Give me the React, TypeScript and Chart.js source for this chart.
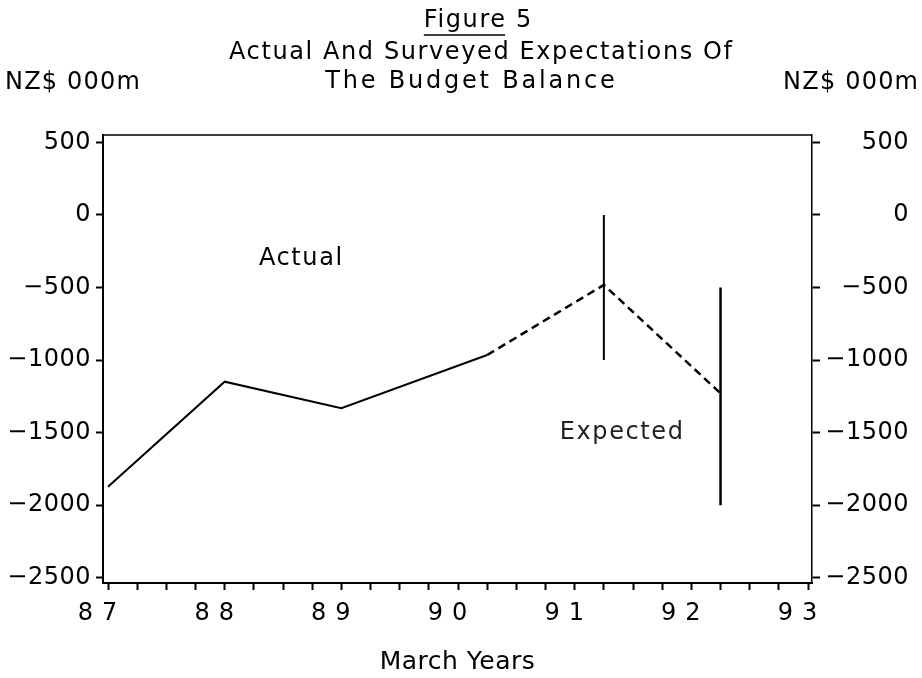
import React, { useEffect, useRef } from 'react';
import { Chart, registerables } from 'chart.js';

Chart.register(...registerables);

const FONT = '"DejaVu Sans", "Liberation Sans", sans-serif';

// ---- data ----
const actualYears = [87, 88, 89, 90.25];
const actualBalance = [-1872, -1149, -1332, -965];
const expectedYears = [90.25, 91.25, 92.25];
const expectedBalance = [-965, -482, -1229];
const rangeYears = [91.25, 92.25];
const rangeHigh = [0, -500];
const rangeLow = [-1000, -2000];

// ---- axes ----
const xMajorYears = [87, 88, 89, 90, 91, 92, 93];
const xTickLabels = ['87', '88', '89', '90', '91', '92', '93'];
const yTickValues = [-2500, -2000, -1500, -1000, -500, 0, 500];
const yTickLabels = ['\u22122500', '\u22122000', '\u22121500', '\u22121000', '\u2212500', '0', '500'];
const X_MIN = 86.957;
const X_MAX = 93.034;
const Y_MIN = -2536;
const Y_MAX = 551;

// ---- text ----
const titleLines = ['Figure 5', 'Actual And Surveyed Expectations Of', 'The Budget Balance'];
const unitLabel = 'NZ$ 000m';
const xTitle = 'March Years';
const noteText = ['Actual', 'Expected'];
const noteYear = [88.65, 91.4];
const noteValue = [-300, -1500];

function drawText(ctx: any, text: string, x: number, y: number, align: string, size: number, spacing: number, color = '#000') {
  ctx.save();
  ctx.font = `${size}px ${FONT}`;
  ctx.letterSpacing = `${spacing}px`;
  ctx.fillStyle = color;
  ctx.textAlign = align;
  ctx.textBaseline = 'middle';
  let dx = 0;
  if (align === 'center') dx = spacing / 2;
  if (align === 'right') dx = spacing;
  ctx.fillText(text, x + dx, y);
  ctx.restore();
}

const decorPlugin = {
  id: 'decor',
  beforeDraw(chart: any) {
    chart.ctx.letterSpacing = '0.5px';
  },
  afterDatasetsDraw(chart: any) {
    chart.ctx.letterSpacing = '9px';
  },
  afterDraw(chart: any) {
    const ctx = chart.ctx;
    ctx.letterSpacing = '0px';
    const { left, right, top } = chart.chartArea;
    // top frame line
    ctx.save();
    ctx.strokeStyle = '#000';
    ctx.lineWidth = 1.5;
    ctx.beginPath();
    ctx.moveTo(left, top);
    ctx.lineTo(right, top);
    ctx.stroke();
    ctx.restore();

    // titles
    const centers = [477.5, 480.5, 470];
    const ys = [21, 53, 82];
    const spacings = [1.6, 1.6, 2.8];
    titleLines.forEach((t, i) => drawText(ctx, t, centers[i], ys[i], 'center', 24, spacings[i]));
    // underline under "Figure"
    ctx.save();
    ctx.font = `24px ${FONT}`;
    ctx.letterSpacing = `${spacings[0]}px`;
    const wAll = ctx.measureText(titleLines[0]).width - spacings[0];
    const wFig = ctx.measureText(titleLines[0].split(' ')[0]).width - spacings[0];
    const x0 = centers[0] - wAll / 2;
    ctx.strokeStyle = '#000';
    ctx.lineWidth = 1.5;
    ctx.beginPath();
    ctx.moveTo(x0, 35);
    ctx.lineTo(x0 + wFig, 35);
    ctx.stroke();
    ctx.restore();

    // unit labels
    drawText(ctx, unitLabel, 5, 83, 'left', 24, 1.2);
    drawText(ctx, unitLabel, 918, 83, 'right', 24, 1.2);

    // series notes
    const xs = chart.scales.x;
    const yy = chart.scales.y;
    noteText.forEach((t, i) => {
      drawText(ctx, t, xs.getPixelForValue(noteYear[i]), yy.getPixelForValue(noteValue[i]), 'center', 24, 1.6, i === 1 ? '#222' : '#000');
    });
  },
};

function yAxis(position: 'left' | 'right') {
  const isLeft = position === 'left';
  return {
    type: 'linear',
    position,
    display: true,
    min: Y_MIN,
    max: Y_MAX,
    afterBuildTicks: (scale: any) => {
      scale.ticks = yTickValues.map((value) => ({ value }));
    },
    afterFit: (scale: any) => {
      scale.width = isLeft ? 103 : 97;
    },
    grid: {
      drawOnChartArea: false,
      drawTicks: true,
      tickLength: isLeft ? 7 : 8,
      tickWidth: 2,
      tickColor: '#000',
    },
    border: { display: true, color: '#000', width: isLeft ? 2 : 1.5 },
    ticks: {
      color: '#000',
      font: { family: FONT, size: 24 },
      padding: 5,
      crossAlign: isLeft ? 'near' : 'far',
      autoSkip: false,
      callback: (v: number) => {
        const i = yTickValues.indexOf(v);
        return i >= 0 ? yTickLabels[i] : '';
      },
    },
  };
}

export default function App() {
  const ref = useRef<HTMLCanvasElement>(null);

  useEffect(() => {
    const canvas = ref.current;
    if (!canvas) return;
    const line = (data: any[], extra: any = {}) => ({
      data,
      borderColor: '#000',
      backgroundColor: '#000',
      borderWidth: 2,
      pointRadius: 0,
      pointHoverRadius: 0,
      fill: false,
      tension: 0,
      ...extra,
    });
    const chart = new Chart(canvas, {
      type: 'line',
      data: {
        datasets: [
          line(actualYears.map((x, i) => ({ x, y: actualBalance[i] })), { label: 'Actual' }),
          line(expectedYears.map((x, i) => ({ x, y: expectedBalance[i] })), {
            label: 'Expected',
            borderDash: [8, 5],
            borderWidth: 2.5,
          }),
          ...rangeYears.map((x, i) =>
            line(
              [
                { x, y: rangeHigh[i] },
                { x, y: rangeLow[i] },
              ],
              { label: `Range ${x}`, borderWidth: i === 0 ? 2 : 2.5 }
            )
          ),
        ],
      },
      options: {
        animation: false,
        responsive: false,
        devicePixelRatio: 1,
        layout: { padding: { left: 0, right: 13, top: 135, bottom: 0 } },
        plugins: {
          legend: { display: false },
          tooltip: { enabled: false },
          title: { display: false },
        },
        events: [],
        scales: {
          x: {
            type: 'linear',
            position: 'bottom',
            min: X_MIN,
            max: X_MAX,
            afterFit: (scale: any) => {
              scale.height = 95;
            },
            grid: {
              drawOnChartArea: false,
              drawTicks: true,
              tickLength: 7,
              tickWidth: 2,
              tickColor: '#000',
            },
            border: { display: true, color: '#000', width: 2 },
            ticks: {
              stepSize: 0.25,
              includeBounds: false,
              autoSkip: false,
              maxRotation: 0,
              minRotation: 0,
              padding: 9,
              labelOffset: -6,
              color: '#000',
              z: 1,
              font: { family: FONT, size: 24 },
              callback: (v: number) => {
                const i = xMajorYears.indexOf(Math.round(v * 100) / 100);
                return i >= 0 ? xTickLabels[i] : '';
              },
            },
            title: {
              display: true,
              text: xTitle,
              color: '#000',
              font: { family: FONT, size: 25 },
              padding: { top: 0, bottom: 1 },
            },
          },
          y: yAxis('left'),
          y2: yAxis('right'),
        },
      } as any,
      plugins: [decorPlugin],
    } as any);
    return () => chart.destroy();
  }, []);

  return (
    <div style={{ position: 'fixed', left: 0, top: 0, width: 922, height: 678, background: '#fff' }}>
      <canvas ref={ref} width={922} height={678} style={{ display: 'block', width: 922, height: 678 }} />
    </div>
  );
}
